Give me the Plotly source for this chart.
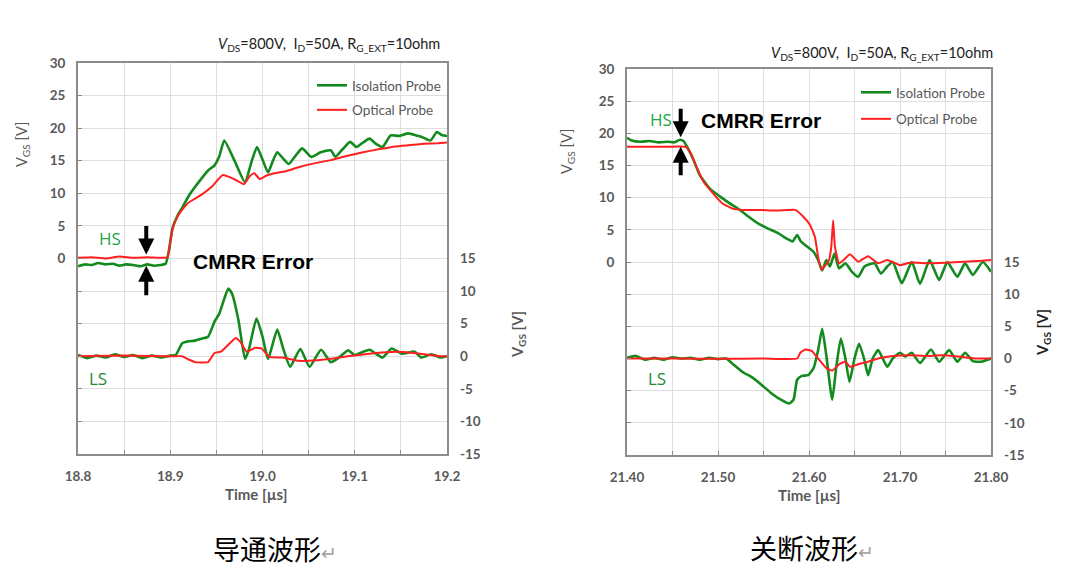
import plotly.graph_objects as go

# --- turn-on waveform (left chart) ---
on_hs_iso_t = [18.800, 18.808, 18.815, 18.822, 18.830, 18.838, 18.845, 18.852, 18.860, 18.868,
               18.875, 18.882, 18.889, 18.895, 18.8985, 18.9025, 18.908, 18.913, 18.920, 18.927,
               18.934, 18.941, 18.948, 18.953, 18.9585, 18.970, 18.981, 18.988, 18.994, 19.000,
               19.006, 19.011, 19.016, 19.022, 19.0285, 19.036, 19.043, 19.053, 19.063, 19.074,
               19.079, 19.087, 19.095, 19.102, 19.109, 19.116, 19.123, 19.130, 19.139, 19.148,
               19.158, 19.166, 19.172, 19.182, 19.189, 19.195, 19.200]
on_hs_iso_v = [-1.2, -0.9, -1.0, -0.7, -0.9, -0.8, -1.1, -0.9, -1.0, -1.2,
               -0.9, -1.1, -1.0, -0.8, 1.2, 4.7, 6.6, 7.8, 9.6, 11.0,
               12.3, 13.5, 14.3, 15.6, 18.1, 14.9, 11.7, 14.8, 17.1, 15.2,
               13.2, 14.9, 16.3, 15.4, 14.5, 15.8, 16.9, 15.6, 16.3, 16.6,
               15.6, 16.8, 17.9, 17.1, 17.8, 18.4, 17.6, 17.1, 18.9, 18.8,
               19.2, 18.9, 18.7, 18.1, 19.4, 18.9, 18.8]

on_hs_opt_t = [18.800, 18.815, 18.830, 18.845, 18.860, 18.875, 18.890, 18.897, 18.8995, 18.9025,
               18.908, 18.913, 18.920, 18.927, 18.934, 18.945, 18.957, 18.969, 18.980, 18.986,
               18.991, 18.997, 19.004, 19.011, 19.025, 19.039, 19.056, 19.074, 19.090, 19.109,
               19.127, 19.144, 19.160, 19.175, 19.190, 19.200]
on_hs_opt_v = [0.1, 0.2, 0.0, 0.3, 0.1, 0.2, 0.1, 0.2, 2.0, 4.5,
               6.5, 7.5, 8.6, 9.2, 9.8, 11.0, 12.8, 12.2, 11.4, 12.6,
               13.1, 12.2, 12.7, 13.0, 13.4, 14.0, 14.6, 15.1, 15.7, 16.3,
               16.8, 17.2, 17.4, 17.6, 17.7, 17.8]

on_ls_iso_t = [18.800, 18.810, 18.820, 18.830, 18.840, 18.850, 18.860, 18.870, 18.880, 18.890,
               18.900, 18.906, 18.913, 18.920, 18.927, 18.934, 18.941, 18.948, 18.953, 18.9585,
               18.963, 18.967, 18.974, 18.981, 18.985, 18.9935, 19.000, 19.006, 19.016, 19.022,
               19.030, 19.041, 19.051, 19.0635, 19.074, 19.081, 19.093, 19.100, 19.116, 19.130,
               19.140, 19.151, 19.165, 19.172, 19.183, 19.193, 19.200]
on_ls_iso_v = [0.2, -0.3, 0.1, -0.2, 0.3, -0.1, 0.2, -0.3, 0.1, -0.2,
               0.1, 0.2, 2.0, 2.3, 2.4, 2.7, 3.0, 5.3, 6.5, 8.8,
               10.4, 9.6, 5.5, -0.4, 0.9, 5.8, 3.0, -0.4, 4.1, 1.4,
               -1.6, 1.1, -1.6, 1.0, -0.9, -0.4, 0.9, 0.2, 1.0, -0.2,
               1.2, 0.4, 0.7, -0.2, 0.3, -0.2, 0.0]

on_ls_opt_t = [18.800, 18.850, 18.900, 18.913, 18.920, 18.927, 18.941, 18.948, 18.955, 18.966,
               18.971, 18.976, 18.983, 18.992, 18.999, 19.0075, 19.022, 19.039, 19.060, 19.074,
               19.092, 19.116, 19.144, 19.165, 19.193, 19.200]
on_ls_opt_v = [0.0, 0.1, 0.0, 0.0, -0.5, -0.9, -0.9, 0.5, 0.7, 2.2,
               2.8, 2.2, 0.7, 1.3, 1.2, -0.1, -0.2, -0.7, -0.6, -0.4,
               0.0, 0.4, 0.7, 0.5, 0.0, 0.0]

# --- turn-off waveform (right chart) ---
off_hs_iso_t = [21.400, 21.405, 21.415, 21.425, 21.435, 21.445, 21.452, 21.458, 21.462, 21.468,
                21.473, 21.480, 21.491, 21.502, 21.512, 21.523, 21.534, 21.544, 21.555, 21.566,
                21.5745, 21.582, 21.587, 21.591, 21.598, 21.605, 21.610, 21.6145, 21.619, 21.623,
                21.628, 21.633, 21.640, 21.647, 21.654, 21.661, 21.672, 21.679, 21.686, 21.692,
                21.702, 21.713, 21.722, 21.7325, 21.743, 21.752, 21.763, 21.7715, 21.780, 21.791,
                21.800]
off_hs_iso_v = [19.3, 18.9, 18.7, 18.8, 18.6, 18.7, 18.6, 19.0, 18.8, 17.4,
                15.9, 13.5, 11.4, 10.2, 9.2, 8.2, 7.0, 6.0, 5.2, 4.5,
                3.7, 3.2, 4.2, 3.2, 2.4, 1.6, 0.3, -1.3, 0.3, -0.7,
                1.3, -1.0, -0.2, -1.5, -2.3, -0.7, -0.2, -1.8, -0.7, 0.0,
                -3.3, 0.0, -3.4, 0.3, -2.8, 0.0, -2.3, -0.2, -2.0, 0.0,
                -1.5]

off_hs_opt_t = [21.400, 21.420, 21.440, 21.4645, 21.470, 21.477, 21.484, 21.495, 21.505, 21.516,
                21.527, 21.545, 21.565, 21.585, 21.594, 21.601, 21.6065, 21.610, 21.6135, 21.617,
                21.622, 21.6245, 21.6265, 21.6285, 21.633, 21.638, 21.645, 21.654, 21.665, 21.676,
                21.686, 21.700, 21.711, 21.730, 21.750, 21.770, 21.790, 21.800]
off_hs_opt_v = [17.9, 17.9, 17.9, 17.9, 16.9, 14.6, 12.5, 10.6, 9.1, 8.3,
                8.1, 8.1, 8.0, 8.1, 7.0, 5.8, 3.9, 0.8, -1.2, -0.7,
                0.3, 2.4, 6.5, 2.4, -0.2, 0.3, 1.2, 0.05, 0.9, -0.2,
                0.3, -0.5, -0.1, -0.2, -0.1, 0.05, 0.2, 0.3]

off_ls_iso_t = [21.400, 21.410, 21.420, 21.430, 21.440, 21.450, 21.460, 21.470, 21.480, 21.490,
                21.500, 21.509, 21.516, 21.527, 21.537, 21.548, 21.5585, 21.569, 21.578, 21.583,
                21.587, 21.592, 21.599, 21.605, 21.610, 21.6145, 21.619, 21.6255, 21.630, 21.635,
                21.640, 21.6445, 21.650, 21.655, 21.661, 21.665, 21.670, 21.676, 21.681, 21.686,
                21.692, 21.700, 21.706, 21.713, 21.722, 21.734, 21.743, 21.754, 21.763, 21.7715,
                21.780, 21.789, 21.800]
off_ls_iso_v = [0.1, 0.4, -0.2, 0.1, -0.2, 0.2, 0.0, 0.1, -0.2, 0.1,
                -0.1, 0.0, -0.8, -2.1, -2.9, -4.1, -5.4, -6.4, -7.0, -6.4,
                -3.3, -2.7, -2.6, -1.5, 1.3, 4.6, 0.5, -6.4, -1.3, 3.1,
                0.0, -3.6, 0.0, 2.3, -0.3, -2.6, 0.0, 1.3, 0.0, -1.3,
                0.0, 0.9, 0.3, 0.9, -0.7, 1.4, -0.5, 1.3, -0.5, 0.9,
                -0.4, -0.5, 0.0]

off_ls_opt_t = [21.400, 21.450, 21.500, 21.550, 21.587, 21.5905, 21.596, 21.603, 21.610, 21.619,
                21.6255, 21.634, 21.640, 21.645, 21.654, 21.665, 21.676, 21.6925, 21.710, 21.728,
                21.746, 21.764, 21.782, 21.800]
off_ls_opt_v = [0.0, 0.0, -0.05, 0.0, 0.0, 0.9, 1.4, 1.2, 0.0, -1.5,
                -1.9, -0.8, -0.5, -1.3, -0.9, -0.5, 0.0, 0.4, 0.5, 0.4,
                0.5, 0.3, 0.0, 0.0]

on_xticks = [18.8, 18.85, 18.9, 18.95, 19.0, 19.05, 19.1, 19.15, 19.2]
on_xlabels = ["18.8", "", "18.9", "", "19.0", "", "19.1", "", "19.2"]
off_xticks = [21.40, 21.45, 21.50, 21.55, 21.60, 21.65, 21.70, 21.75, 21.80]
off_xlabels = ["21.40", "", "21.50", "", "21.60", "", "21.70", "", "21.80"]
left_yticks = [-30, -25, -20, -15, -10, -5, 0, 5, 10, 15, 20, 25, 30]
left_ylabels = ["", "", "", "", "", "", "0", "5", "10", "15", "20", "25", "30"]
right_yticks = [-15, -10, -5, 0, 5, 10, 15]
right_ylabels = ["-15", "-10", "-5", "0", "5", "10", "15"]

GREEN = "#138a1e"
RED = "#ff1f1f"
GRAY = "#595959"
W, H = 1080, 579
PAGE_OFFSET = 8  # the page body has a default 8px margin

fig = go.Figure()


def add_pair(t_iso, v_iso, t_opt, v_opt, xa, ya, legend, show):
    fig.add_trace(go.Scatter(x=t_iso, y=v_iso, mode="lines", name="Isolation Probe",
                             line=dict(color=GREEN, width=2.6, shape="spline", smoothing=0.5),
                             xaxis=xa, yaxis=ya,
                             legend=legend, legendgroup=legend + "iso", showlegend=show))
    fig.add_trace(go.Scatter(x=t_opt, y=v_opt, mode="lines", name="Optical Probe",
                             line=dict(color=RED, width=2, shape="spline", smoothing=0.4),
                             xaxis=xa, yaxis=ya,
                             legend=legend, legendgroup=legend + "opt", showlegend=show))


add_pair(on_hs_iso_t, on_hs_iso_v, on_hs_opt_t, on_hs_opt_v, "x", "y", "legend", True)
add_pair(on_ls_iso_t, on_ls_iso_v, on_ls_opt_t, on_ls_opt_v, "x", "y2", "legend", False)
add_pair(off_hs_iso_t, off_hs_iso_v, off_hs_opt_t, off_hs_opt_v, "x2", "y3", "legend2", True)
add_pair(off_ls_iso_t, off_ls_iso_v, off_ls_opt_t, off_ls_opt_v, "x2", "y4", "legend2", False)

tick_font = dict(family="Lato", size=13.5, color=GRAY, weight="bold")
axis_line = dict(showline=True, linecolor="#8c8c8c", linewidth=2, mirror=True,
                 gridcolor="#dedede", gridwidth=1, zeroline=False, automargin=False,
                 ticks="inside", ticklen=4, tickcolor="#8c8c8c", tickfont=tick_font)
right_axis = dict(side="right", range=[-15, 45], tickmode="array",
                  tickvals=right_yticks, ticktext=right_ylabels,
                  showgrid=False, showline=False, zeroline=False, ticks="",
                  automargin=False, ticklabelstandoff=12, tickfont=tick_font)


def px(x):
    return (x - PAGE_OFFSET) / W


def py(y):
    return 1 - (y - PAGE_OFFSET) / H


legend_font = dict(family="Lato", size=13.5, color=GRAY)

fig.update_layout(
    width=W, height=H,
    margin=dict(l=0, r=0, t=0, b=0),
    paper_bgcolor="white", plot_bgcolor="white",
    showlegend=True,
    xaxis=dict(domain=[px(78), px(447)], anchor="y", range=[18.8, 19.2],
               tickmode="array", tickvals=on_xticks, ticktext=on_xlabels,
               ticklabelstandoff=9, **axis_line),
    yaxis=dict(domain=[py(454), py(63)], anchor="x", range=[-30, 30],
               tickmode="array", tickvals=left_yticks, ticktext=left_ylabels,
               ticklabelstandoff=8, **axis_line),
    yaxis2=dict(overlaying="y", anchor="x", **right_axis),
    xaxis2=dict(domain=[px(627), px(991)], anchor="y3", range=[21.40, 21.80],
                tickmode="array", tickvals=off_xticks, ticktext=off_xlabels,
                ticklabelstandoff=9, **axis_line),
    yaxis3=dict(domain=[py(455), py(69)], anchor="x2", range=[-30, 30],
                tickmode="array", tickvals=left_yticks, ticktext=left_ylabels,
                ticklabelstandoff=8, **axis_line),
    yaxis4=dict(overlaying="y3", anchor="x2", **right_axis),
    legend=dict(x=px(446), y=py(70), xanchor="right", yanchor="top",
                bgcolor="rgba(0,0,0,0)", traceorder="grouped", tracegroupgap=4,
                font=legend_font),
    legend2=dict(x=px(990), y=py(77), xanchor="right", yanchor="top",
                 bgcolor="rgba(0,0,0,0)", traceorder="grouped", tracegroupgap=6,
                 font=legend_font),
)

notes = []
cond = "<i>V</i><sub>DS</sub>=800V,  I<sub>D</sub>=50A, R<sub>G_EXT</sub>=10ohm"
notes.append(dict(text=cond, x=px(442), y=py(45), xanchor="right",
                  font=dict(family="Lato", size=14.5, color="#222222")))
notes.append(dict(text=cond, x=px(995), y=py(53), xanchor="right",
                  font=dict(family="Lato", size=14.5, color="#222222")))

vgs = "V<sub>GS</sub> [V]"
for xx, yy, col, bold in [(22, 145, GRAY, False), (567, 152, GRAY, False),
                          (518, 335, GRAY, True), (1043, 333, "#222222", True)]:
    notes.append(dict(text=vgs, x=px(xx), y=py(yy), textangle=-90,
                      font=dict(family="Lato", size=14.5, color=col,
                                weight="bold" if bold else "normal")))

notes.append(dict(text="Time [µs]", x=px(256), y=py(494),
                  font=dict(family="Lato", size=15, color=GRAY, weight="bold")))
notes.append(dict(text="Time [µs]", x=px(809), y=py(495),
                  font=dict(family="Lato", size=15, color=GRAY, weight="bold")))

# HS / LS labels and CMRR error markers
label_font = dict(family="Open Sans", size=17, color="#22a644")
ls_font = dict(family="Open Sans", size=17, color="#1e8c33")
notes.append(dict(text="HS", x=px(110), y=py(238), font=label_font))
notes.append(dict(text="LS", x=px(98), y=py(378), font=ls_font))
notes.append(dict(text="HS", x=px(661), y=py(119), font=label_font))
notes.append(dict(text="LS", x=px(657), y=py(378), font=ls_font))

cmrr_font = dict(family="Liberation Sans", size=21, color="black", weight="bold")
notes.append(dict(text="CMRR Error", x=px(253), y=py(262), font=cmrr_font))
notes.append(dict(text="CMRR Error", x=px(761), y=py(121), font=cmrr_font))

for xr, yr, tx, ty, ay in [("x", "y", 18.874, 0.6, -30), ("x", "y", 18.874, -1.1, 31),
                           ("x2", "y3", 21.459, 19.4, -30), ("x2", "y3", 21.459, 17.9, 30)]:
    notes.append(dict(text="", x=tx, y=ty, xref=xr, yref=yr, showarrow=True,
                      ax=0, ay=ay, arrowhead=2, arrowwidth=4, arrowsize=0.8,
                      arrowcolor="black"))

cap_font = dict(family="Noto Sans CJK SC", size=27, color="black")
ret = "<span style='color:#a0a0a0;font-size:19px'>↵</span>"
notes.append(dict(text="导通波形" + ret, x=px(275), y=py(548), font=cap_font))
notes.append(dict(text="关断波形" + ret, x=px(812), y=py(547), font=cap_font))

for n in notes:
    n.setdefault("xref", "paper")
    n.setdefault("yref", "paper")
    n.setdefault("xanchor", "center")
    n.setdefault("yanchor", "middle")
    n.setdefault("showarrow", False)
    fig.add_annotation(**n)

fig.write_html("out.html")
